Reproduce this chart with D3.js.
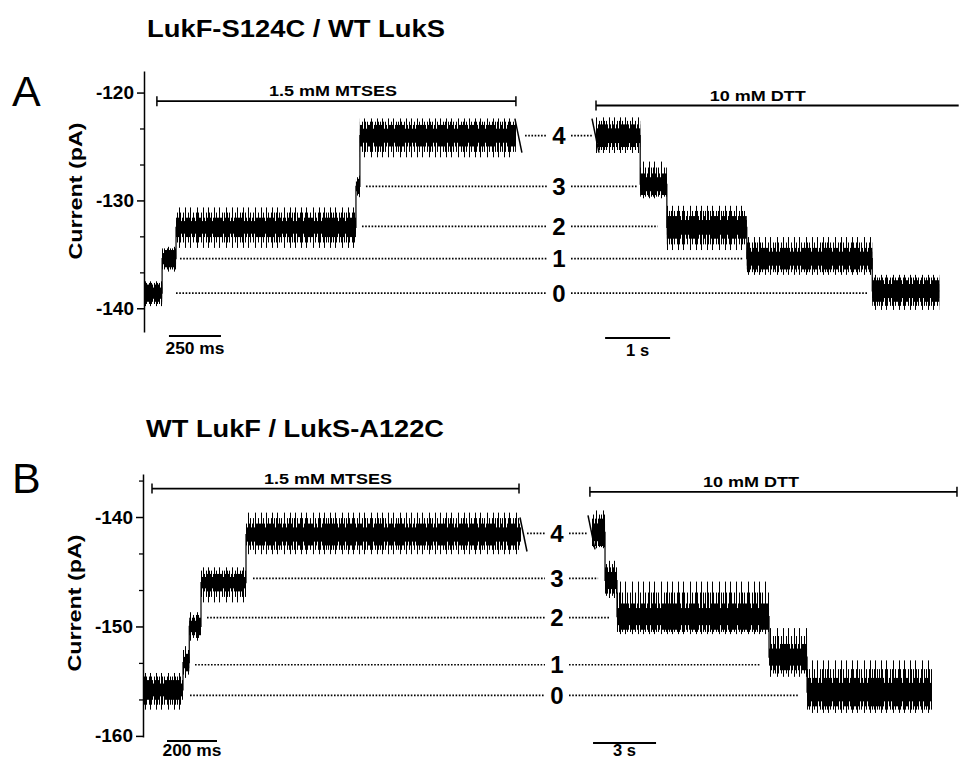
<!DOCTYPE html>
<html>
<head>
<meta charset="utf-8">
<script src="https://cdn.jsdelivr.net/npm/d3@7"></script>
<style>
  body { margin: 0; background: #fff; }
  svg { display: block; }
  text { font-family: "Liberation Sans", Arial, sans-serif; font-weight: bold; fill: #000; }
</style>
</head>
<body>
<div id="chart"></div>
<script>
// ---- Panel A : LukF-S124C / WT LukS ----
const aTitle = "LukF-S124C / WT LukS";
const aTicks = [-140, -130, -120];
// left trace (ms) : MTSES
const aLeftEdges   = [0, 87, 154, 1019, 1038, 1788];
const aLeftLevels  = [-138.6, -135.4, -132.5, -128.7, -124.0];
const aLeftNoise   = [0.8, 0.8, 0.9, 0.7, 1.0];
const aLeftUp      = [1.1, 1.1, 1.85, 1.0, 1.6];
const aLeftDown    = [1.2, 1.2, 1.9, 1.0, 2.0];
// right trace (s) : DTT
const aRightEdges  = [0, 0.68, 1.09, 2.32, 4.25, 5.28];
const aRightLevels = [-124.0, -128.5, -132.5, -135.4, -138.4];
const aRightNoise  = [1.05, 1.0, 1.05, 1.0, 1.0];
const aRightUp     = [1.7, 2.1, 2.0, 2.0, 1.5];
const aRightDown   = [1.6, 1.3, 2.1, 1.5, 1.75];
// reference levels 0..4
const aRefLevels = [-138.6, -135.4, -132.4, -128.7, -124.0];
const aRefFrom   = [154, 173, 1048, 1067, 1832];   // ms, left part start
const aRefTo     = [4.17, 2.25, 0.95, 0.63, -0.05]; // s, right part end

// ---- Panel B : WT LukF / LukS-A122C ----
const bTitle = "WT LukF / LukS-A122C";
const bTicks = [-160, -150, -140];
const bLeftEdges   = [0, 160, 185, 232, 412, 1512];
const bLeftLevels  = [-155.8, -153.3, -150.0, -146.0, -141.6];
const bLeftNoise   = [0.9, 0.8, 0.8, 0.8, 1.0];
const bLeftUp      = [1.55, 1.5, 1.3, 1.4, 2.0];
const bLeftDown    = [1.8, 1.4, 1.3, 1.8, 1.8];
const bRightEdges  = [0, 0.62, 1.19, 8.43, 10.24, 16.19];
const bRightLevels = [-141.4, -145.8, -149.1, -152.8, -156.0];
const bRightNoise  = [1.25, 1.2, 1.2, 1.2, 1.3];
const bRightUp     = [2.0, 1.8, 3.2, 2.65, 2.9];
const bRightDown   = [1.45, 1.6, 1.6, 1.8, 1.9];
const bRefLevels = [-156.3, -153.5, -149.2, -145.6, -141.5];
const bRefFrom   = [188, 208, 256, 440, 1536];
const bRefTo     = [9.81, 8.0, 0.81, 0.29, -0.24];

const levelLabels = ["0", "1", "2", "3", "4"];

// treatments: [start, end, value, label centre]
const aMtses = [62, 1788, -120.8, 909];
const aDtt   = [0, 5.58, -121.2, 2.49];
const bMtses = [36, 1504, -137.4, 740];
const bDtt   = [-0.1, 17.38, -137.7, 7.57];

// scale bars: [start, length, label]
const aScaleL = [120, 250, "250 ms"];
const aScaleR = [0.14, 1, "1 s"];
const bScaleL = [96, 200, "200 ms"];
const bScaleR = [0.05, 3, "3 s"];

const svg = d3.select("#chart").append("svg")
  .attr("width", 959)
  .attr("height", 760);

// hatch textures for the noise fringe
const defs = svg.append("defs");
function hatch(id, w, xs) {
  const p = defs.append("pattern")
    .attr("id", id)
    .attr("width", w)
    .attr("height", 8)
    .attr("patternUnits", "userSpaceOnUse");
  xs.forEach(x => p.append("rect")
    .attr("x", x).attr("width", 1).attr("height", 8)
    .attr("fill", "#000")
    .attr("shape-rendering", "crispEdges"));
}
hatch("spike", 29, [0, 5, 11, 16, 23]);
hatch("mid", 13, [1, 3, 6, 8, 11]);
hatch("fringe", 7, [0, 1, 3, 4, 5]);

function label(g, str, x, y, size, len, anchor) {
  const t = g.append("text")
    .attr("x", x)
    .attr("y", y)
    .attr("text-anchor", anchor || "middle")
    .style("font-size", size + "px")
    .text(str);
  if (len) t.attr("textLength", len).attr("lengthAdjust", "spacingAndGlyphs");
  return t;
}

function drawTrace(g, x, y, edges, levels, noise, up, down) {
  const segs = levels.map((v, i) => ({ t0: edges[i], t1: edges[i + 1], v, n: noise[i], u: up[i], d: down[i] }));

  const band = (fill, hi, lo) => g.append("g").selectAll("rect")
    .data(segs)
    .join("rect")
    .attr("x", d => x(d.t0))
    .attr("width", d => x(d.t1) - x(d.t0))
    .attr("y", d => y(d.v + hi(d)))
    .attr("height", d => y(d.v - lo(d)) - y(d.v + hi(d)))
    .attr("fill", fill);

  band("url(#spike)", d => d.u, d => d.d);
  band("url(#mid)", d => (d.n + d.u) / 2, d => (d.n + d.d) / 2);
  band("url(#fringe)", d => d.n, d => d.n);
  band("#000", d => d.n * 0.65, d => d.n * 0.65);

  const pts = segs.flatMap(d => [[d.t0, d.v], [d.t1, d.v]]);
  g.append("path")
    .attr("d", d3.line().x(p => x(p[0])).y(p => y(p[1]))(pts))
    .attr("fill", "none")
    .attr("stroke", "#000")
    .attr("stroke-width", 1.2);
  return segs;
}

function breakMark(g, px, py, dx) {
  g.append("line")
    .attr("x1", px + dx - 3).attr("y1", py - 17)
    .attr("x2", px + dx + 4).attr("y2", py + 17)
    .attr("stroke", "#000")
    .attr("stroke-width", 1.5);
}

function treatment(g, x, y, bar, text, caps) {
  const [t0, t1, v, tc] = bar;
  const yy = y(v);
  g.append("line")
    .attr("x1", x(t0)).attr("x2", x(t1))
    .attr("y1", yy).attr("y2", yy)
    .attr("stroke", "#000").attr("stroke-width", 1.8);
  caps.forEach(t => g.append("line")
    .attr("x1", x(t)).attr("x2", x(t))
    .attr("y1", yy - 5).attr("y2", yy + 5)
    .attr("stroke", "#000").attr("stroke-width", 1.5));
  label(g, text, x(tc), yy - 5, 15, text.length > 10 ? 128 : 96);
}

function scaleBar(g, x, yPx, sb) {
  const [t0, len, text] = sb;
  g.append("line")
    .attr("x1", x(t0)).attr("x2", x(t0 + len))
    .attr("y1", yPx).attr("y2", yPx)
    .attr("stroke", "#000").attr("stroke-width", 2);
  label(g, text, (x(t0) + x(t0 + len)) / 2, Math.min(yPx + 18, 756), 16, text.length > 4 ? 59 : 23);
}

function drawPanel(p) {
  const g = svg.append("g");
  const y = d3.scaleLinear().domain(p.yDomain).range(p.yRange);
  const xL = d3.scaleLinear().domain(p.xLDomain).range(p.xLRange);
  const xR = d3.scaleLinear().domain(p.xRDomain).range(p.xRRange);

  // panel letter and title
  g.append("text")
    .attr("x", 12).attr("y", p.letterY)
    .style("font-size", "43px").style("font-weight", "normal")
    .text(p.letter);
  label(g, p.title, p.xLRange[0] + 3, p.titleY, 23, 298, "start");

  // axis
  const axis = g.append("g")
    .attr("transform", `translate(${p.xLRange[0]},0)`)
    .call(d3.axisLeft(y).tickValues(p.ticks).tickSize(7).tickPadding(3).tickSizeOuter(0).tickFormat(d => String(d)));
  axis.select(".domain").attr("stroke-width", 1.5);
  axis.selectAll(".tick line").attr("stroke-width", 1.5);
  axis.selectAll(".tick text")
    .style("font-size", "19px")
    .style("font-family", "'Liberation Sans', Arial, sans-serif")
    .style("font-weight", "bold");

  const minor = [];
  p.ticks.forEach(t => [1, 2].forEach(k => minor.push(t + k * 10 / 3, t - k * 10 / 3)));
  const inside = minor.filter(v => v > Math.min(...p.yDomain) && v < Math.max(...p.yDomain) && !p.ticks.includes(Math.round(v)));
  const minorAxis = g.append("g")
    .attr("transform", `translate(${p.xLRange[0]},0)`)
    .call(d3.axisLeft(y).tickValues(Array.from(new Set(inside.map(v => +v.toFixed(2))))).tickSize(4).tickFormat(""));
  minorAxis.select(".domain").remove();
  minorAxis.selectAll(".tick line").attr("stroke-width", 1.3);

  g.append("text")
    .attr("transform", `translate(${p.yTitleX},${p.yTitleY}) rotate(-90)`)
    .attr("text-anchor", "middle")
    .attr("textLength", 137)
    .attr("lengthAdjust", "spacingAndGlyphs")
    .style("font-size", "19px")
    .text("Current (pA)");

  // reference levels
  p.refLevels.forEach((v, i) => {
    g.append("line")
      .attr("x1", xL(p.refFrom[i])).attr("x2", p.labelX - 12)
      .attr("y1", y(v)).attr("y2", y(v))
      .attr("stroke", "#000").attr("stroke-width", 1.7).attr("stroke-dasharray", "1.6 1.6");
    g.append("line")
      .attr("x1", p.labelX + 12).attr("x2", xR(p.refTo[i]))
      .attr("y1", y(v)).attr("y2", y(v))
      .attr("stroke", "#000").attr("stroke-width", 1.7).attr("stroke-dasharray", "1.6 1.6");
    label(g, levelLabels[i], p.labelX, y(v), 24).attr("dy", "0.36em");
  });

  // traces
  const left = drawTrace(g, xL, y, p.leftEdges, p.leftLevels, p.leftNoise, p.leftUp, p.leftDown);
  const right = drawTrace(g, xR, y, p.rightEdges, p.rightLevels, p.rightNoise, p.rightUp, p.rightDown);
  const last = left[left.length - 1];
  breakMark(g, xL(last.t1), y(last.v), 2);
  const first = right[0];
  breakMark(g, xR(first.t0), y(first.v), -1);

  // treatments
  treatment(g, xL, y, p.mtses, "1.5 mM MTSES", [p.mtses[0], p.mtses[1]]);
  treatment(g, xR, y, p.dtt, "10 mM DTT", p.dttCaps);

  // scale bars
  scaleBar(g, xL, p.yRange[0] + 4, p.scaleL);
  scaleBar(g, xR, p.yRange[0] + 6, p.scaleR);
}

drawPanel({
  letter: "A", letterY: 106, title: aTitle, titleY: 37,
  ticks: aTicks, yDomain: [-142.2, -118], yRange: [332, 71],
  xLDomain: [0, 1800], xLRange: [144, 518.4],
  xRDomain: [0, 5.3], xRRange: [596, 940.5],
  yTitleX: 82, yTitleY: 191, labelX: 559,
  leftEdges: aLeftEdges, leftLevels: aLeftLevels, leftNoise: aLeftNoise, leftUp: aLeftUp, leftDown: aLeftDown,
  rightEdges: aRightEdges, rightLevels: aRightLevels, rightNoise: aRightNoise, rightUp: aRightUp, rightDown: aRightDown,
  refLevels: aRefLevels, refFrom: aRefFrom, refTo: aRefTo,
  mtses: aMtses, dtt: aDtt, dttCaps: [aDtt[0]],
  scaleL: aScaleL, scaleR: aScaleR
});

drawPanel({
  letter: "B", letterY: 493, title: bTitle, titleY: 437,
  ticks: bTicks, yDomain: [-160.1, -136.07], yRange: [737, 474],
  xLDomain: [0, 1520], xLRange: [143, 523],
  xRDomain: [0, 16.2], xRRange: [592, 932.2],
  yTitleX: 81, yTitleY: 603, labelX: 557,
  leftEdges: bLeftEdges, leftLevels: bLeftLevels, leftNoise: bLeftNoise, leftUp: bLeftUp, leftDown: bLeftDown,
  rightEdges: bRightEdges, rightLevels: bRightLevels, rightNoise: bRightNoise, rightUp: bRightUp, rightDown: bRightDown,
  refLevels: bRefLevels, refFrom: bRefFrom, refTo: bRefTo,
  mtses: bMtses, dtt: bDtt, dttCaps: [bDtt[0], bDtt[1]],
  scaleL: bScaleL, scaleR: bScaleR
});
</script>
</body>
</html>
